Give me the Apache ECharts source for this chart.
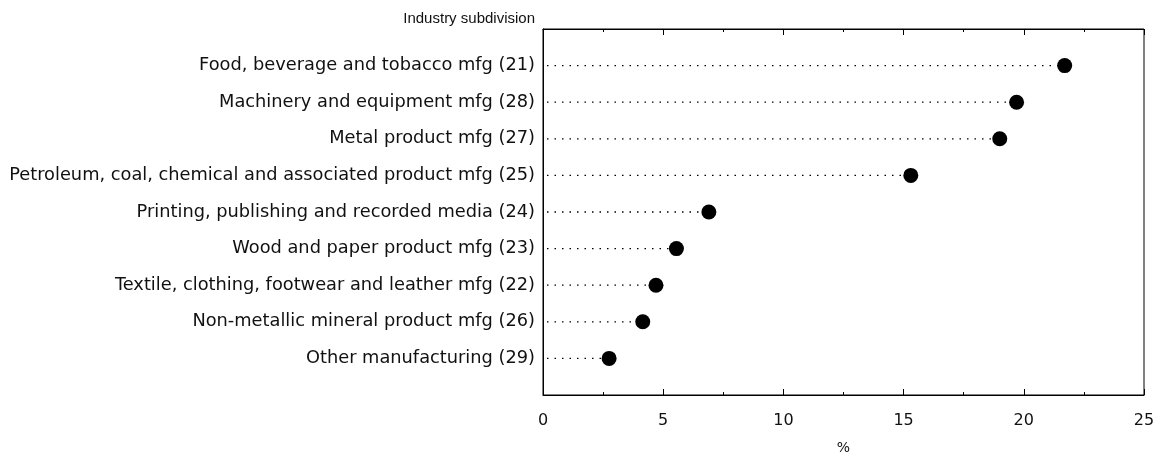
<!DOCTYPE html>
<html>
<head>
<meta charset="utf-8">
<script src="https://cdn.jsdelivr.net/npm/echarts@6/dist/echarts.min.js"></script>
<style>html,body{margin:0;padding:0;background:#fff}#c{width:1156px;height:455px}</style>
</head>
<body>
<div id="c"></div>
<script>
const categories = [
  'Food, beverage and tobacco mfg (21)',
  'Machinery and equipment mfg (28)',
  'Metal product mfg (27)',
  'Petroleum, coal, chemical and associated product mfg (25)',
  'Printing, publishing and recorded media (24)',
  'Wood and paper product mfg (23)',
  'Textile, clothing, footwear and leather mfg (22)',
  'Non-metallic mineral product mfg (26)',
  'Other manufacturing (29)'
];
const values = [21.7, 19.7, 19.0, 15.3, 6.9, 5.55, 4.7, 4.15, 2.75];
const xTicks = [0, 5, 10, 15, 20, 25];
const headerText = 'Industry subdivision';
const axisTitle = '%';

const slots = [''].concat(categories, ['']);
const pts = values.map((v, i) => [v, categories[i]]);
const FONT = '"DejaVu Sans", Arial, sans-serif';
const HFONT = '"Liberation Sans", Arial, sans-serif';

const chart = echarts.init(document.getElementById('c'), null, {renderer: 'canvas'});
const xCommon = {
  type: 'value', min: xTicks[0], max: xTicks[xTicks.length - 1], interval: 5,
  axisLine: {show: true, lineStyle: {color: '#000', width: 1}},
  axisTick: {show: true, inside: true, length: 6, lineStyle: {color: '#000'}},
  minorTick: {show: true, splitNumber: 2, length: 3, lineStyle: {color: '#000'}},
  splitLine: {show: false}
};
chart.setOption({
  animation: false,
  grid: {left: 543, right: 12, top: 29, bottom: 60, show: true, borderColor: '#000', borderWidth: 1,
         containLabel: false, outerBoundsMode: 'none'},
  graphic: [{
    type: 'text', right: 1156 - 535, top: 11,
    style: {text: headerText, font: '15px ' + HFONT, fill: '#111', textAlign: 'right'}
  }],
  xAxis: [
    Object.assign({}, xCommon, {
      position: 'bottom',
      axisLabel: {fontSize: 16, fontFamily: FONT, color: '#111', margin: 18},
      name: axisTitle, nameLocation: 'middle', nameGap: 46,
      nameTextStyle: {fontSize: 14, fontFamily: FONT, color: '#111'}
    }),
    Object.assign({}, xCommon, {position: 'top', axisLabel: {show: false}})
  ],
  yAxis: {
    type: 'category', data: slots, inverse: true, boundaryGap: false,
    axisLine: {show: true, lineStyle: {color: '#000'}},
    axisTick: {show: false},
    axisLabel: {fontSize: 17.8, fontFamily: FONT, color: '#111', margin: 8}
  },
  series: [{
    type: 'custom',
    data: pts,
    renderItem: function (params, api) {
      const start = api.coord([0, api.value(1)]);
      const end = api.coord([api.value(0), api.value(1)]);
      return {
        type: 'line',
        shape: {x1: start[0] + 4, y1: start[1], x2: end[0], y2: end[1]},
        style: {stroke: '#000', lineWidth: 1.3, lineDash: [1.5, 6]}
      };
    },
    encode: {x: 0, y: 1},
    z: 1
  }, {
    type: 'scatter',
    data: pts,
    symbol: 'circle', symbolSize: 15,
    itemStyle: {color: '#000', opacity: 1},
    z: 3
  }]
});
</script>
</body>
</html>
